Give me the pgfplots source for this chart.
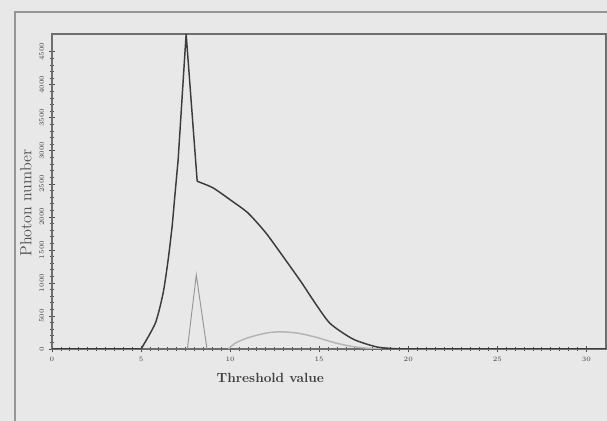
\documentclass[border=0pt]{standalone}
\usepackage{pgfplots}
\pgfplotsset{compat=1.18}
\definecolor{bg}{RGB}{232,232,232}
\definecolor{frame}{RGB}{150,150,150}
\definecolor{axcol}{RGB}{110,110,110}
\definecolor{main}{RGB}{60,60,60}
\definecolor{spike}{RGB}{150,150,150}
\definecolor{light}{RGB}{180,180,180}
\begin{document}
\begin{tikzpicture}
\fill[bg] (0,0) rectangle (455.25pt,315.75pt);
\draw[frame, line width=1.4pt] (11.25pt,0) -- (11.25pt,306.75pt) -- (455.25pt,306.75pt);
\begin{axis}[
  at={(39pt,54pt)}, anchor=south west,
  scale only axis, width=415.5pt, height=236.25pt,
  xmin=0, xmax=31.1, ymin=0, ymax=4770,
  axis line style={axcol, line width=1.1pt},
  xtick={0,5,...,30}, minor x tick num=9,
  ytick={0,500,...,4500}, minor y tick num=4,
  tick align=center,
  major tick length=5pt, minor tick length=3pt,
  tick style={black!70, line width=0.6pt},
  xtick pos=bottom, ytick pos=left,
  tick label style={font=\fontsize{5.5}{6}\selectfont\bfseries, text=black!75},
  yticklabel style={rotate=90, anchor=south},
  scaled y ticks=false,
  yticklabel={\pgfmathprintnumber[fixed,1000 sep={}]{\tick}},
  xlabel={\textbf{Threshold value}},
  xlabel style={at={(axis description cs:0.394,0)}, anchor=center, yshift=-22pt, text=black!75},
  ylabel={Photon number},
  ylabel style={at={(axis description cs:-0.047,0.463)}, anchor=center, font=\fontsize{12}{14}\selectfont, text=black!70},
  axis background/.style={fill=bg},
]
\addplot[light, line width=1.1pt, smooth] coordinates {
(9.9,0) (10.3,90) (11,170) (12,240) (12.8,260) (13.8,240) (14.8,180) (15.8,100) (16.8,40) (17.8,10) (18.5,0)
};
\addplot[spike, line width=0.7pt] coordinates {
(7.6,0) (8.1,1120) (8.7,0)
};
\addplot[main, line width=1.1pt] coordinates {
(0,0) (5,0)
};
\addplot[main, line width=1.1pt, smooth, tension=0.4] coordinates {
(5,0) (5.8,390) (6.24,850) (6.52,1350) (6.74,1850) (6.91,2360) (7.08,2860)
};
\addplot[main, line width=1.1pt] coordinates {
(7.08,2860) (7.53,4770) (8.15,2540)
};
\addplot[main, line width=1.1pt, smooth, tension=0.4] coordinates {
(8.15,2540) (9.04,2440) (10,2260) (11,2060) (12,1760) (13,1390) (14,1010) (14.66,740) (15.6,390)
(16.9,150) (18.26,30) (19.55,0)
};
\addplot[main, line width=1.1pt] coordinates {
(19.55,0) (31.1,0)
};
\end{axis}
\pgfresetboundingbox
\path[use as bounding box] (0,0) rectangle (455.25pt,315.75pt);
\end{tikzpicture}
\end{document}
